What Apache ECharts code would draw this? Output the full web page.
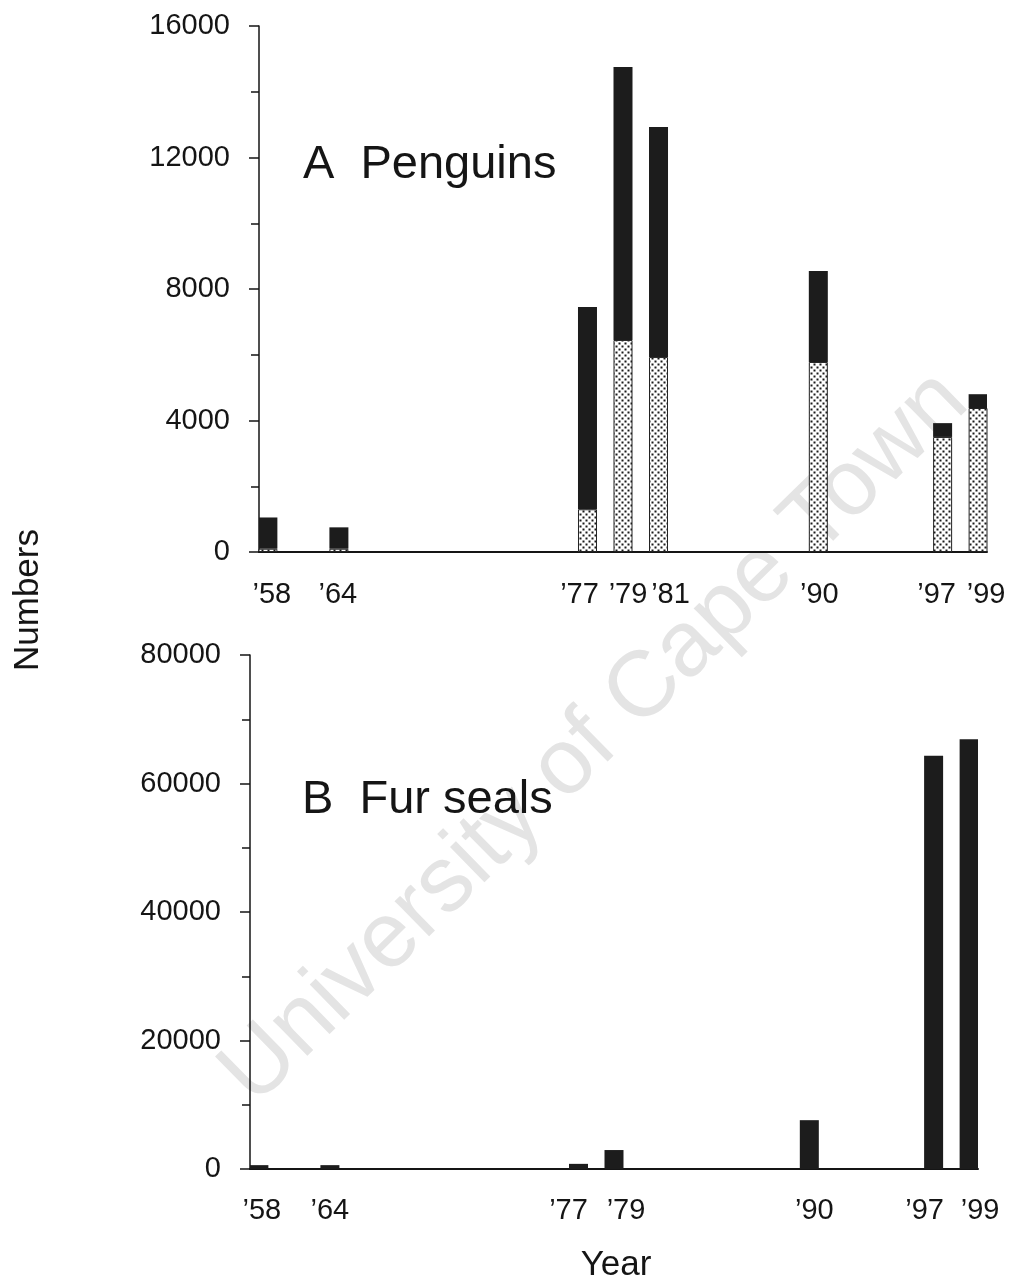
<!DOCTYPE html>
<html>
<head>
<meta charset="utf-8">
<script src="https://cdn.jsdelivr.net/npm/echarts@6/dist/echarts.min.js"></script>
<style>
  html, body { margin: 0; padding: 0; background: #fff; }
  #chart { width: 1014px; height: 1282px; }
</style>
</head>
<body>
<div id="chart"></div>
<script>
// ---- Data ----
// x-axis tick slots (one slot per year from 1977; earlier years compressed, as in the original)
const slotLabels = [
  "’58", "", "", "",
  "’64", "", "", "", "", "", "", "", "", "", "", "", "", "",
  "’77", "",
  "’79", "",
  "’81", "", "", "", "", "", "", "", "",
  "’90", "", "", "", "", "", "",
  "’97", "",
  "’99"
];
const years = ["’58", "’64", "’77", "’79", "’81", "’90", "’97", "’99"];
// A Penguins: stippled (lower) and black (upper) parts of each bar
const penguinsStippled = [100, 100, 1300, 6450, 5930, 5780, 3500, 4380];
const penguinsBlack    = [950, 650, 6150, 8300, 7000, 2770, 420, 420];
// B Fur seals
const furSeals = [600, 600, 800, 2950, null, 7600, 64300, 66900];

const penguinTicks = { min: 0, max: 16000, interval: 4000 };
const sealTicks = { min: 0, max: 80000, interval: 20000 };

// ---- Style: small horizontal nudges of the hand-placed year labels (px) ----
const topLabelNudge = { "’58": 4, "’64": -1, "’77": -8, "’79": 5, "’81": 12, "’90": 1, "’97": -6, "’99": 8 };
const bottomLabelNudge = { "’58": 3, "’64": 0, "’77": -10, "’79": 12, "’90": 5, "’97": -9, "’99": 11 };

// ---- Helpers ----
function toSlots(values) {
  return slotLabels.map(lbl => {
    const i = years.indexOf(lbl);
    return (lbl !== "" && i >= 0) ? values[i] : null;
  });
}

function stipplePattern() {
  const c = document.createElement('canvas');
  c.width = 6; c.height = 6;
  const g = c.getContext('2d');
  g.fillStyle = '#ffffff';
  g.fillRect(0, 0, 6, 6);
  g.fillStyle = '#1a1a1a';
  g.fillRect(0.5, 0.5, 2, 2);
  g.fillRect(3.5, 3.5, 2, 2);
  return c;
}

const FONT = '"Liberation Sans", Arial, Helvetica, sans-serif';
const INK = '#151515';

const sealLabels = slotLabels.map(lbl => {
  const i = years.indexOf(lbl);
  return (lbl !== "" && i >= 0 && furSeals[i] != null) ? lbl : "";
});

function xAxisFor(gridIndex, labels, nudge, margin) {
  const rich = {};
  labels.forEach((lbl, idx) => {
    if (!lbl) return;
    const s = nudge[lbl] || 0;
    rich['s' + idx] = {
      fontSize: 29, color: INK, fontFamily: FONT,
      padding: s >= 0 ? [0, 0, 0, 2 * s] : [0, -2 * s, 0, 0]
    };
  });
  return {
    type: 'category',
    gridIndex: gridIndex,
    data: labels,
    boundaryGap: true,
    axisLine: { show: true, onZero: false, lineStyle: { color: INK, width: 2 } },
    axisTick: { show: false },
    axisLabel: {
      interval: 0, margin: margin, fontSize: 29, color: INK, fontFamily: FONT,
      formatter: (value, idx) => value ? ('{s' + idx + '|' + value + '}') : '',
      rich: rich
    },
    splitLine: { show: false }
  };
}

function yAxisFor(gridIndex, t) {
  return {
    type: 'value',
    gridIndex: gridIndex,
    min: t.min, max: t.max, interval: t.interval,
    axisLine: { show: true, lineStyle: { color: INK, width: 1.5 } },
    axisTick: { show: true, length: 10, lineStyle: { color: INK, width: 1.5 } },
    minorTick: { show: true, splitNumber: 2, length: 8, lineStyle: { color: INK, width: 1.5 } },
    splitLine: { show: false },
    minorSplitLine: { show: false },
    axisLabel: {
      margin: 29, fontSize: 29, color: INK, fontFamily: FONT,
      formatter: v => String(v)
    }
  };
}

const chart = echarts.init(document.getElementById('chart'), null, { renderer: 'canvas' });

const option = {
  backgroundColor: '#ffffff',
  animation: false,
  grid: [
    { left: 259, top: 26, width: 728, height: 526, containLabel: false, outerBoundsMode: 'none' },
    { left: 250, top: 655, width: 728, height: 514, containLabel: false, outerBoundsMode: 'none' }
  ],
  xAxis: [
    xAxisFor(0, slotLabels, topLabelNudge, 28),
    xAxisFor(1, sealLabels, bottomLabelNudge, 27)
  ],
  yAxis: [ yAxisFor(0, penguinTicks), yAxisFor(1, sealTicks) ],
  series: [
    {
      name: 'Penguins (stippled)', type: 'bar', xAxisIndex: 0, yAxisIndex: 0,
      stack: 'penguins', barWidth: 19,
      itemStyle: {
        color: { image: stipplePattern(), repeat: 'repeat' },
        borderColor: '#222', borderWidth: 1
      },
      data: toSlots(penguinsStippled)
    },
    {
      name: 'Penguins (black)', type: 'bar', xAxisIndex: 0, yAxisIndex: 0,
      stack: 'penguins', barWidth: 19,
      itemStyle: { color: '#1c1c1c' },
      data: toSlots(penguinsBlack)
    },
    {
      name: 'Fur seals', type: 'bar', xAxisIndex: 1, yAxisIndex: 1,
      barWidth: 19,
      itemStyle: { color: '#1c1c1c' },
      data: toSlots(furSeals)
    }
  ],
  graphic: [
    {
      type: 'text', z: -10, x: 595, y: 738, rotation: 0.775,
      style: {
        text: 'University of Cape Town', fill: '#e4e4e4',
        font: '93px ' + FONT, align: 'center', verticalAlign: 'middle'
      }
    },
    {
      type: 'text', z: 10, x: 303, y: 165,
      style: { text: 'A  Penguins', fill: INK, font: '47px ' + FONT, align: 'left', verticalAlign: 'middle' }
    },
    {
      type: 'text', z: 10, x: 302, y: 800,
      style: { text: 'B  Fur seals', fill: INK, font: '47px ' + FONT, align: 'left', verticalAlign: 'middle' }
    },
    {
      type: 'text', z: 10, x: 616, y: 1265,
      style: { text: 'Year', fill: INK, font: '35px ' + FONT, align: 'center', verticalAlign: 'middle' }
    },
    {
      type: 'text', z: 10, x: 28, y: 600, rotation: Math.PI / 2,
      style: { text: 'Numbers', fill: INK, font: '35px ' + FONT, align: 'center', verticalAlign: 'middle' }
    }
  ]
};

chart.setOption(option);
</script>
</body>
</html>
